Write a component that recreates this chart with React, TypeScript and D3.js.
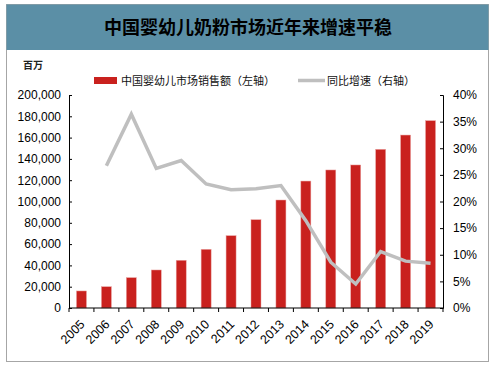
import React, { useRef, useEffect } from "react"
import * as d3 from "d3"

const years = ["2005", "2006", "2007", "2008", "2009", "2010", "2011", "2012", "2013", "2014", "2015", "2016", "2017", "2018", "2019"]
const sales = [16000, 20000, 28500, 35700, 44800, 55100, 67900, 82900, 101400, 119200, 129600, 134300, 149000, 162400, 175900]
// 2005 has no growth value
const growth = [null, 26.7, 36.4, 26.2, 27.7, 23.3, 22.2, 22.4, 23.0, 16.4, 8.6, 4.5, 10.6, 8.8, 8.4]
const leftTicks = [0, 20000, 40000, 60000, 80000, 100000, 120000, 140000, 160000, 180000, 200000]
const rightTicks = [0, 5, 10, 15, 20, 25, 30, 35, 40]

const W = 495
const H = 367
const cjk = "'Noto Sans CJK SC', sans-serif"
const latin = "'Liberation Sans', Arial, sans-serif"

function App() {
  const ref = useRef<SVGSVGElement>(null)

  useEffect(() => {
    const svg = d3.select(ref.current)
    svg.selectAll("*").remove()

    const margin = { left: 69, right: 443, top: 95, bottom: 308 }

    // frame + header
    svg.append("rect")
      .attr("x", 6.5).attr("y", 4.5)
      .attr("width", 482).attr("height", 357)
      .attr("fill", "#fff").attr("stroke", "#a6a6a6")
    svg.append("rect")
      .attr("x", 6.5).attr("y", 4.5)
      .attr("width", 482).attr("height", 45.5)
      .attr("fill", "#5b8fa6")
    svg.append("text")
      .attr("x", 248).attr("y", 34)
      .attr("text-anchor", "middle")
      .style("font-family", cjk).style("font-weight", "bold").style("font-size", "18px")
      .attr("fill", "#000")
      .text("中国婴幼儿奶粉市场近年来增速平稳")

    svg.append("text")
      .attr("x", 23).attr("y", 69)
      .style("font-family", cjk).style("font-size", "10px").style("font-weight", "bold")
      .attr("fill", "#222")
      .text("百万")

    // legend
    svg.append("rect").attr("x", 94).attr("y", 77).attr("width", 23).attr("height", 7).attr("fill", "#c9211e")
    svg.append("text").attr("x", 121).attr("y", 85)
      .style("font-family", cjk).style("font-size", "11px").attr("fill", "#111")
      .text("中国婴幼儿市场销售额（左轴）")
    svg.append("line").attr("x1", 298).attr("x2", 325).attr("y1", 80.5).attr("y2", 80.5)
      .attr("stroke", "#bfbfbf").attr("stroke-width", 3.5)
    svg.append("text").attr("x", 327).attr("y", 85)
      .style("font-family", cjk).style("font-size", "11px").attr("fill", "#111")
      .text("同比增速（右轴）")

    const xb = d3.scaleBand().domain(years).range([margin.left, margin.right])
    const yL = d3.scaleLinear().domain([0, 200000]).range([margin.bottom, margin.top])
    const yR = d3.scaleLinear().domain([0, 40]).range([margin.bottom, margin.top])

    // bars
    svg.append("g").selectAll("rect")
      .data(sales)
      .join("rect")
      .attr("x", (d, i) => xb(years[i])! + xb.bandwidth() / 2 - 5)
      .attr("y", d => yL(d))
      .attr("width", 10)
      .attr("height", d => yL(0) - yL(d))
      .attr("fill", "#c9211e")
      .attr("stroke", "#eaa3a1").attr("stroke-width", 0.5)

    // line
    const line = d3.line<number | null>()
      .defined(d => d !== null)
      .x((d, i) => xb(years[i])! + xb.bandwidth() / 2)
      .y(d => yR(d as number))
    svg.append("path")
      .datum(growth)
      .attr("d", line)
      .attr("fill", "none")
      .attr("stroke", "#bfbfbf")
      .attr("stroke-width", 3.5)
      .attr("stroke-linejoin", "miter")

    // left axis
    const gl = svg.append("g").attr("transform", `translate(${margin.left},0)`)
      .call(d3.axisRight(yL).tickValues(leftTicks).tickSize(3).tickFormat(d3.format(",")))
    gl.selectAll("text").attr("x", -8).attr("text-anchor", "end")
    gl.selectAll("path,line").attr("stroke", "#000")
    gl.selectAll("text").style("font-family", latin).style("font-size", "12px").attr("fill", "#000")

    // right axis
    const gr = svg.append("g").attr("transform", `translate(${margin.right},0)`)
      .call(d3.axisLeft(yR).tickValues(rightTicks).tickSize(3).tickFormat(d => d + "%"))
    gr.selectAll("text").attr("x", 10).attr("text-anchor", "start")
    gr.selectAll("path,line").attr("stroke", "#000")
    gr.selectAll("text").style("font-family", latin).style("font-size", "12px").attr("fill", "#000")

    // x axis
    const gx = svg.append("g").attr("transform", `translate(0,${margin.bottom})`)
    gx.append("line").attr("x1", margin.left).attr("x2", margin.right).attr("stroke", "#000")
    gx.selectAll("line.tick")
      .data(d3.range(years.length + 1))
      .join("line")
      .attr("class", "tick")
      .attr("x1", i => margin.left + i * xb.step())
      .attr("x2", i => margin.left + i * xb.step())
      .attr("y1", 0).attr("y2", 4)
      .attr("stroke", "#000")
    gx.selectAll("text.yr")
      .data(years)
      .join("text")
      .attr("class", "yr")
      .attr("transform", d => `translate(${xb(d)! + xb.bandwidth() / 2 + 4},17) rotate(-45)`)
      .attr("text-anchor", "end")
      .style("font-family", latin).style("font-size", "12.5px").attr("fill", "#000")
      .text(d => d)
  }, [])

  return (
    <svg ref={ref} width={W} height={H} style={{ position: "absolute", left: 0, top: 0 }} />
  )
}

export default App
